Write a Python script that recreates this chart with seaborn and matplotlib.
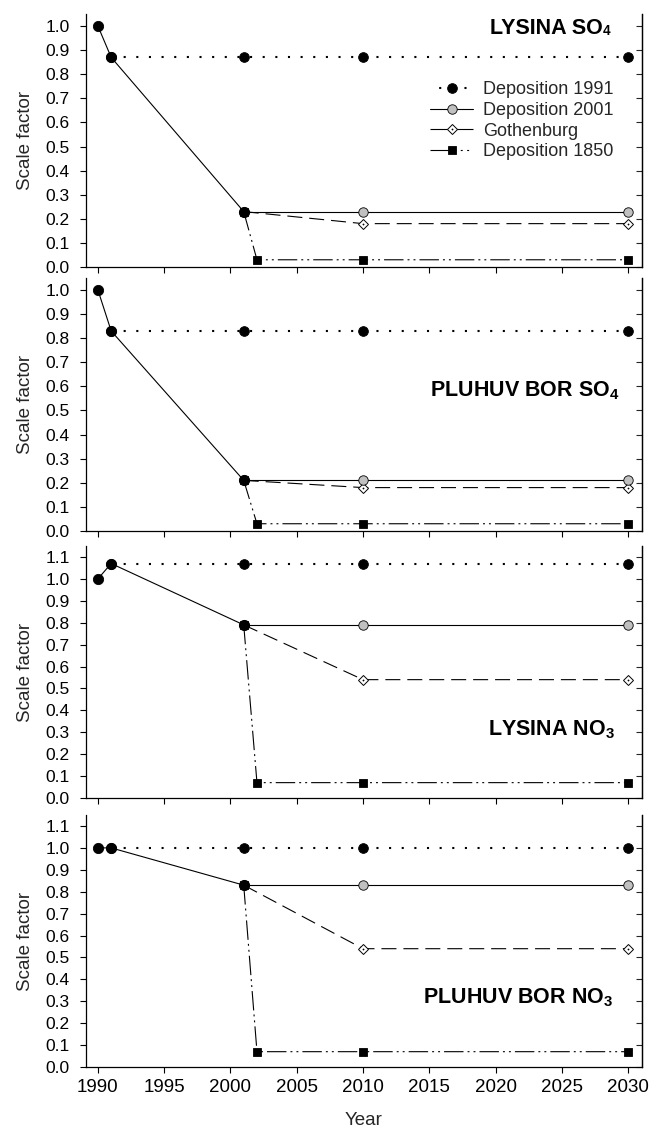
import matplotlib
matplotlib.use("Agg")
import matplotlib.pyplot as plt
import seaborn as sns
from matplotlib.lines import Line2D
from matplotlib.legend_handler import HandlerTuple

# ---- data -------------------------------------------------------------
years_hist = [1990, 1991, 2001]
years_dep1991 = [1991, 2001, 2010, 2030]
years_dep2001 = [2001, 2010, 2030]
years_goth = [2001, 2010, 2030]
years_dep1850 = [2001, 2002, 2010, 2030]

lys_so4_hist = [1.00, 0.87, 0.23]
lys_so4_dep1991 = [0.87, 0.87, 0.87, 0.87]
lys_so4_dep2001 = [0.23, 0.23, 0.23]
lys_so4_goth = [0.23, 0.18, 0.18]
lys_so4_dep1850 = [0.23, 0.03, 0.03, 0.03]

pb_so4_hist = [1.00, 0.83, 0.21]
pb_so4_dep1991 = [0.83, 0.83, 0.83, 0.83]
pb_so4_dep2001 = [0.21, 0.21, 0.21]
pb_so4_goth = [0.21, 0.18, 0.18]
pb_so4_dep1850 = [0.21, 0.03, 0.03, 0.03]

lys_no3_hist = [1.00, 1.07, 0.79]
lys_no3_dep1991 = [1.07, 1.07, 1.07, 1.07]
lys_no3_dep2001 = [0.79, 0.79, 0.79]
lys_no3_goth = [0.79, 0.54, 0.54]
lys_no3_dep1850 = [0.79, 0.07, 0.07, 0.07]

pb_no3_hist = [1.00, 1.00, 0.83]
pb_no3_dep1991 = [1.00, 1.00, 1.00, 1.00]
pb_no3_dep2001 = [0.83, 0.83, 0.83]
pb_no3_goth = [0.83, 0.54, 0.54]
pb_no3_dep1850 = [0.83, 0.07, 0.07, 0.07]

series_labels = ["Deposition 1991", "Deposition 2001", "Gothenburg", "Deposition 1850"]
x_ticks = [1990, 1995, 2000, 2005, 2010, 2015, 2020, 2025, 2030]
y_ticks_short = [0.0, 0.1, 0.2, 0.3, 0.4, 0.5, 0.6, 0.7, 0.8, 0.9, 1.0]
y_ticks_tall = [0.0, 0.1, 0.2, 0.3, 0.4, 0.5, 0.6, 0.7, 0.8, 0.9, 1.0, 1.1]

# ---- style ------------------------------------------------------------
sns.set_theme(style="ticks")
plt.rcParams["font.family"] = ["Liberation Sans", "DejaVu Sans"]
plt.rcParams["mathtext.fontset"] = "custom"
plt.rcParams["mathtext.rm"] = "Liberation Sans"
plt.rcParams["mathtext.bf"] = "Liberation Sans:bold"
plt.rcParams["lines.scale_dashes"] = False
plt.rcParams["axes.edgecolor"] = "black"
plt.rcParams["axes.linewidth"] = 0.9

LW = 0.8
DOTTED = (0, (1.5, 7.6))
DASHED = (0, (10.8, 5.0))
DASHDOTDOT = (0, (14.0, 2.9, 1.4, 2.9, 1.4, 2.9))
GREY = "#c0c0c0"
TICK_Y = 12.5
TICK_X = 13.5
LABEL = 13.5
LEGEND = 13
TITLE = 15.5

# marker looks shared by the plotted series and their legend keys
MK_1991 = dict(marker="o", markersize=7.0, markerfacecolor="black",
               markeredgecolor="black", markeredgewidth=0.6)
MK_2001 = dict(marker="o", markersize=6.8, markerfacecolor=GREY,
               markeredgecolor="black", markeredgewidth=0.6)
MK_GOTH = dict(marker="D", markersize=4.8, markerfacecolor="white",
               markeredgecolor="black", markeredgewidth=0.7)
MK_DOT = dict(marker="o", markersize=1.3, markerfacecolor="black",
              markeredgecolor="black", markeredgewidth=0)
MK_1850 = dict(marker="s", markersize=6.0, markerfacecolor="black",
               markeredgecolor="black", markeredgewidth=0.6)

fig = plt.figure(figsize=(6.49, 11.29), dpi=100)
left, width = 0.1325, 0.8567
panel_boxes = [
    (0.7635, 0.2241),
    (0.5297, 0.2241),
    (0.2932, 0.2232),
    (0.0549, 0.2232),
]

panels = [
    dict(hist=lys_so4_hist, d1991=lys_so4_dep1991, d2001=lys_so4_dep2001,
         goth=lys_so4_goth, d1850=lys_so4_dep1850, ymax=1.05, yticks=y_ticks_short),
    dict(hist=pb_so4_hist, d1991=pb_so4_dep1991, d2001=pb_so4_dep2001,
         goth=pb_so4_goth, d1850=pb_so4_dep1850, ymax=1.05, yticks=y_ticks_short),
    dict(hist=lys_no3_hist, d1991=lys_no3_dep1991, d2001=lys_no3_dep2001,
         goth=lys_no3_goth, d1850=lys_no3_dep1850, ymax=1.15, yticks=y_ticks_tall),
    dict(hist=pb_no3_hist, d1991=pb_no3_dep1991, d2001=pb_no3_dep2001,
         goth=pb_no3_goth, d1850=pb_no3_dep1850, ymax=1.15, yticks=y_ticks_tall),
]


def draw_panel(ax, p):
    common = dict(ax=ax, color="black", legend=False, errorbar=None)
    sns.lineplot(x=years_dep1850, y=p["d1850"], linestyle=DASHDOTDOT,
                 linewidth=LW, zorder=2, **MK_1850, **common)
    sns.lineplot(x=years_goth, y=p["goth"], linestyle=DASHED,
                 linewidth=LW, zorder=2, **MK_GOTH, **common)
    sns.lineplot(x=years_goth, y=p["goth"], linestyle="none",
                 zorder=2.1, **MK_DOT, **common)
    sns.lineplot(x=years_dep2001, y=p["d2001"], linestyle="-",
                 linewidth=LW, zorder=2, **MK_2001, **common)
    sns.lineplot(x=years_dep1991, y=p["d1991"], linestyle=DOTTED,
                 linewidth=1.5, zorder=2.5, **MK_1991, **common)
    ax.lines[-1].set_dash_capstyle("butt")
    sns.lineplot(x=years_hist, y=p["hist"], linestyle="-", linewidth=LW,
                 zorder=3, marker="o", markersize=7.4, markerfacecolor="black",
                 markeredgecolor="black", markeredgewidth=0.6, **common)

    ax.set_xlim(1989.1, 2031.05)
    ax.set_ylim(0, p["ymax"])
    ax.set_xticks(x_ticks)
    ax.set_yticks(p["yticks"])
    ax.set_yticklabels([f"{v:.1f}" for v in p["yticks"]])
    ax.spines["top"].set_visible(False)
    ax.spines["right"].set_visible(True)
    ax.tick_params(axis="y", direction="out", length=4.3, width=0.8, pad=7.5,
                   labelsize=TICK_Y, colors="black")
    ax.tick_params(axis="x", direction="out", length=4.3, width=0.8, pad=4.4,
                   labelsize=TICK_X, colors="black")
    sec = ax.secondary_yaxis("right")
    sec.set_yticks(p["yticks"])
    sec.tick_params(direction="in", length=4.3, width=0.8, labelright=False)
    sec.spines["right"].set_linewidth(0.9)
    ax.set_ylabel("Scale factor", fontsize=LABEL)
    ax.yaxis.set_label_coords(-0.093, 0.5)
    ax.set_xlabel("")


axes = []
for i, (p, (b, h)) in enumerate(zip(panels, panel_boxes)):
    ax = fig.add_axes([left, b, width, h])
    draw_panel(ax, p)
    if i < 3:
        ax.tick_params(axis="x", labelbottom=False)
    axes.append(ax)

axes[-1].set_xlabel("Year", fontsize=LABEL)
axes[-1].xaxis.set_label_coords(0.5, -0.177)

# panel titles
title_kw = dict(fontsize=TITLE, fontweight="bold", color="black")
t1 = axes[0].text(2028.1, 0.965, "LYSINA SO", ha="right", va="baseline", **title_kw)
axes[0].annotate("4", xy=(1, 0.19), xycoords=t1, ha="left", va="baseline",
                 fontsize=9.8, fontweight="bold", color="black")
axes[1].text(2029.4, 0.558, r"PLUHUV BOR SO$_{\mathbf{4}}$", ha="right",
             va="baseline", **title_kw)
axes[2].text(2029.0, 0.287, r"LYSINA NO$_{\mathbf{3}}$", ha="right",
             va="baseline", **title_kw)
axes[3].text(2028.9, 0.29, r"PLUHUV BOR NO$_{\mathbf{3}}$", ha="right",
             va="baseline", **title_kw)

# legend keys
key_1991 = Line2D([], [], color="black", linewidth=1.5, linestyle=(2.5, (1.5, 7.6)),
                  dash_capstyle="butt", **MK_1991)
key_2001 = Line2D([], [], color="black", linewidth=LW, linestyle="-", **MK_2001)
key_goth = Line2D([], [], color="black", linewidth=LW, linestyle=(0, (12.5, 6.0)),
                  **MK_GOTH)
key_dot = Line2D([], [], linestyle="none", **MK_DOT)
key_1850 = Line2D([], [], color="black", linewidth=LW,
                  linestyle=(0, (14.0, 3.2, 1.4, 3.2, 1.4, 3.2, 1.4, 10.0)), **MK_1850)

axes[0].legend([key_1991, key_2001, (key_goth, key_dot), key_1850], series_labels,
               loc="upper left", bbox_to_anchor=(0.619, 0.735), frameon=False,
               fontsize=LEGEND, handlelength=2.4, handletextpad=0.55,
               labelspacing=0.21, borderpad=0, borderaxespad=0,
               handler_map={tuple: HandlerTuple(ndivide=1, pad=0)})

fig.savefig("out.png", dpi=100, facecolor="white")
